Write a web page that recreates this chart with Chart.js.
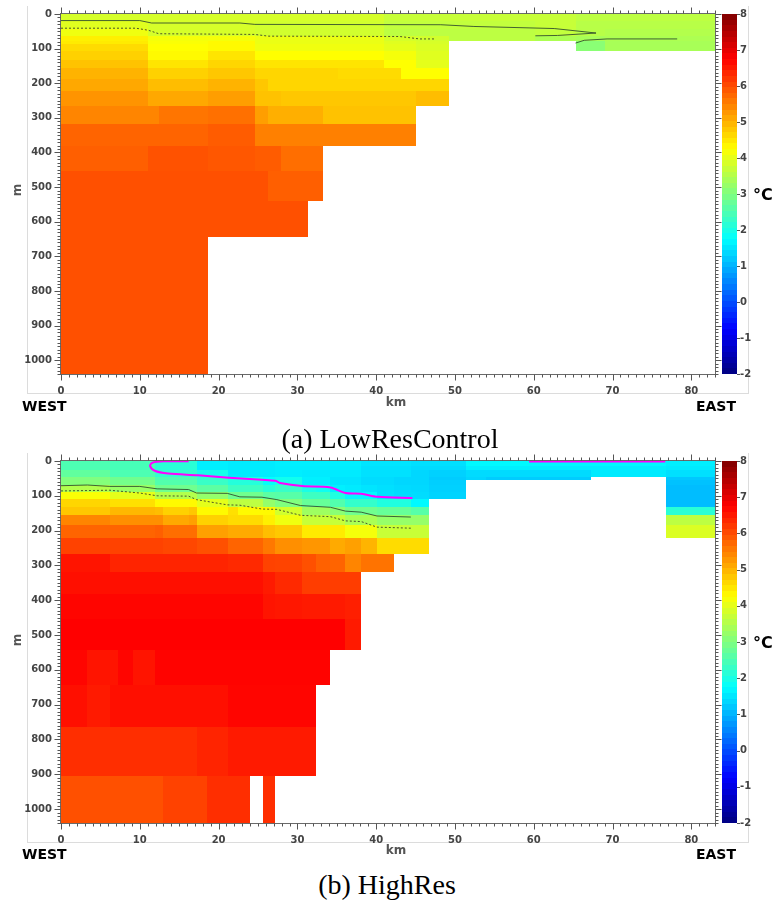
<!DOCTYPE html>
<html><head><meta charset="utf-8">
<script src="https://cdn.jsdelivr.net/npm/chart.js@4.4.0/dist/chart.umd.min.js"></script>
<style>
html,body{margin:0;padding:0;background:#fff;}
#wrap{position:relative;width:773px;height:903px;overflow:hidden;background:#fff;}
canvas{position:absolute;left:0;}
.lbl{position:absolute;white-space:nowrap;line-height:1;}
.ax{font:bold 12px "DejaVu Sans",sans-serif;color:#555;}
.dir{font:bold 14px "DejaVu Sans",sans-serif;color:#000;}
.unit{font:bold 16px "DejaVu Sans",sans-serif;color:#000;}
.ttl{font:28px "Liberation Serif","Times New Roman",serif;color:#000;}
.frame{position:absolute;border-left:1px solid #dcdcdc;border-right:1px solid #dcdcdc;border-bottom:1px solid #dcdcdc;}
</style></head>
<body><div id="wrap">
<div class="frame" style="left:27px;top:6px;width:720px;height:387px"></div>
<div class="frame" style="left:27px;top:453px;width:720px;height:389px"></div>
<canvas id="cA" width="773" height="400" style="top:0px"></canvas>
<canvas id="cB" width="773" height="400" style="top:447px"></canvas>
<div class="lbl ax" style="left:17px;top:190px;transform:translate(-50%,-50%) rotate(-90deg)">m</div>
<div class="lbl ax" style="left:396px;top:402px;transform:translate(-50%,-50%)">km</div>
<div class="lbl dir" style="left:22px;top:406px;transform:translate(0,-50%)">WEST</div>
<div class="lbl dir" style="left:736px;top:406px;transform:translate(-100%,-50%)">EAST</div>
<div class="lbl unit" style="left:753px;top:194px;transform:translate(0,-50%)">°C</div>
<div class="lbl ttl" style="left:390px;top:423px;transform:translate(-50%,0)">(a) LowResControl</div>
<div class="lbl ax" style="left:17px;top:640px;transform:translate(-50%,-50%) rotate(-90deg)">m</div>
<div class="lbl ax" style="left:396px;top:850px;transform:translate(-50%,-50%)">km</div>
<div class="lbl dir" style="left:22px;top:854px;transform:translate(0,-50%)">WEST</div>
<div class="lbl dir" style="left:736px;top:854px;transform:translate(-100%,-50%)">EAST</div>
<div class="lbl unit" style="left:753px;top:642px;transform:translate(0,-50%)">°C</div>
<div class="lbl ttl" style="left:387px;top:869px;transform:translate(-50%,0)">(b) HighRes</div>
</div>
<script>
const _ = null;
// ---------- axes / ticks ----------
const kmTickValues = [0,10,20,30,40,50,60,70,80];
const depthTickValues = [0,100,200,300,400,500,600,700,800,900,1000];
const tempTickValues = [-2,-1,0,1,2,3,4,5,6,7,8];
const kmRange = [0, 83];
const depthRange = [0, 1040];
const tempRange = [-2, 8];

// ---------- (a) LowResControl ----------
const lowResKmEdges = [0,11.1,12.4,18.6,24.6,26.3,27.95,31.4,33.2,35.1,41.0,43.1,45.1,49.3,60.2,65.3,69.1,83];
const lowResDepthEdges = [0,20,42,64,77,88,108,132,156,187,221,266,317,380,454,540,644,1040];
const lowResTemps = [
 [3.85,3.85,3.85,3.85,3.85,3.85,3.85,3.85,3.85,3.85,3.7,3.7,3.7,3.7,3.7,3.6,3.6],
 [3.95,3.85,3.85,3.85,3.8,3.8,3.8,3.8,3.8,3.8,3.65,3.65,3.65,3.65,3.7,3.55,3.55],
 [4.1,3.85,3.85,3.85,3.8,3.8,3.8,3.8,3.8,3.8,3.6,3.6,3.6,3.6,3.65,3.55,3.5],
 [4.4,4.15,4.15,4.15,4.05,4.05,4.05,4.05,4.05,4.05,3.85,3.85,3.8,3.6,3.45,3.4,3.45],
 [4.45,4.2,4.2,4.3,4.05,4.05,4.05,4.05,4.05,4.05,3.95,3.95,3.86,_,_,3.1,3.4],
 [4.6,4.25,4.25,4.3,4.1,4.1,4.1,4.1,4.1,4.1,4.0,4.0,3.9,_,_,3.1,3.4],
 [4.7,4.3,4.3,4.5,4.25,4.25,4.25,4.25,4.25,4.25,4.15,4.15,3.95,_,_,_,_],
 [4.84,4.5,4.5,4.65,4.5,4.5,4.5,4.5,4.5,4.5,4.25,4.25,4.0,_,_,_,_],
 [5.0,4.7,4.7,4.8,4.65,4.65,4.65,4.65,4.65,4.6,4.6,4.25,4.25,_,_,_,_],
 [5.1,4.9,4.9,5.0,4.8,4.65,4.65,4.65,4.65,4.65,4.65,4.65,4.65,_,_,_,_],
 [5.3,5.1,5.1,5.2,4.85,4.85,4.8,4.8,4.8,4.8,4.8,4.8,4.9,_,_,_,_],
 [5.45,5.45,5.6,5.65,5.2,5.03,5.03,5.03,4.85,4.85,4.85,4.85,_,_,_,_,_],
 [5.77,5.77,5.77,5.85,5.5,5.5,5.5,5.5,5.5,5.5,5.5,5.5,_,_,_,_,_],
 [5.82,5.95,5.95,5.9,5.85,5.85,5.67,5.67,_,_,_,_,_,_,_,_,_],
 [5.97,5.97,5.97,5.97,5.97,5.82,5.82,5.82,_,_,_,_,_,_,_,_,_],
 [5.97,5.97,5.97,5.97,5.97,5.97,5.97,_,_,_,_,_,_,_,_,_,_],
 [5.97,5.97,5.97,_,_,_,_,_,_,_,_,_,_,_,_,_,_]
];
const lowResSolidLine1 = [[0,19],[10,19],[11.5,26],[22.7,26],[24.6,30],[48.2,31],[52.4,36],[62.6,42],[67.9,55],[63,62],[60.2,63]];
const lowResSolidLine2 = [[65.3,84],[66.4,76],[69.3,72],[78.2,72]];
const lowResDottedLine = [[0,41],[9.5,41],[11.1,47],[12.4,57],[24.6,59],[26.3,64],[43,65],[45.5,72],[47.5,72]];

// ---------- (b) HighRes ----------
const highResKmEdges = [0,3.35,6.2,7.2,9.1,11.9,12.9,16.2,17.2,18.5,21.2,22.5,24.0,25.6,27.2,30.6,32.3,34.2,36.1,38.1,40.1,42.2,44.4,46.7,51.4,54,67.2,76.8,83];
const highResDepthEdges = [0,13,26,45,56,69,88,108,131,156,185,221,266,318,381,455,543,644,765,904,1040];
const highResTemps = [
 [2.5,2.5,2.45,2.45,2.45,2.15,2.15,2.15,1.6,1.6,1.55,1.55,1.55,1.55,1.6,1.6,1.6,1.6,1.6,1.5,1.5,1.5,1.45,1.45,1.7,1.7,1.7,1.6],
 [2.5,2.5,2.45,2.45,2.45,2.15,2.15,2.15,1.6,1.6,1.55,1.55,1.55,1.55,1.58,1.58,1.58,1.58,1.58,1.46,1.46,1.46,1.4,1.4,1.6,1.6,1.6,1.55],
 [2.7,2.7,2.5,2.5,2.5,2.25,2.25,2.25,1.95,1.95,1.55,1.55,1.55,1.55,1.58,1.55,1.55,1.55,1.55,1.46,1.46,1.46,1.36,1.3,1.4,1.4,1.55,1.45],
 [3.0,3.0,2.85,2.85,2.85,2.5,2.5,2.5,2.25,2.25,2.05,2.05,2.05,1.75,1.9,1.6,1.6,1.5,1.5,1.41,1.41,1.36,1.36,1.25,1.35,1.25,_,1.2],
 [3.05,3.05,2.9,2.9,2.9,2.55,2.55,2.55,2.3,2.3,2.1,2.1,2.1,1.8,2.0,1.6,1.6,1.5,1.5,1.41,1.41,1.36,1.36,1.28,_,_,_,1.15],
 [3.5,3.5,3.25,3.25,3.25,2.85,2.85,2.85,2.65,2.65,2.35,2.35,2.35,2.15,2.3,2.0,1.9,1.6,1.55,1.5,1.45,1.4,1.38,1.3,_,_,_,1.1],
 [4.2,4.2,4.0,4.0,4.0,3.5,3.5,3.5,3.2,3.2,2.85,2.85,2.85,2.65,2.6,2.35,2.35,2.05,1.7,1.7,1.46,1.41,1.41,1.33,_,_,_,1.1],
 [4.65,4.65,4.55,4.55,4.55,4.3,4.3,4.3,4.0,4.0,3.6,3.6,3.6,3.2,3.0,2.75,2.75,2.55,2.25,2.25,2.05,2.05,1.7,_,_,_,_,1.1],
 [4.8,4.8,4.95,4.95,4.95,4.9,4.7,4.8,4.3,4.3,4.55,4.3,4.3,4.3,3.8,3.3,3.3,3.1,2.85,2.85,2.75,2.75,2.6,_,_,_,_,2.15],
 [5.45,5.45,5.35,5.35,5.35,5.35,5.1,5.18,4.7,4.7,4.6,4.6,4.6,4.4,4.1,3.7,3.7,3.7,3.42,3.42,3.22,3.22,3.22,_,_,_,_,3.6],
 [5.77,5.77,5.77,5.77,5.77,5.82,5.67,5.67,5.18,5.18,5.08,5.08,5.08,4.89,4.79,4.45,4.45,4.45,4.15,4.15,3.71,3.71,3.71,_,_,_,_,3.9],
 [6.1,6.1,6.1,6.1,6.1,6.1,6.05,6.05,5.97,5.97,5.77,5.77,5.77,5.57,5.35,5.28,5.28,5.08,5.18,4.99,4.59,4.59,4.59,_,_,_,_,_],
 [6.55,6.55,6.4,6.4,6.4,6.4,6.4,6.4,6.4,6.4,6.35,6.35,6.35,6.1,6.08,5.97,5.8,5.77,5.45,5.62,5.62,_,_,_,_,_,_,_],
 [6.6,6.6,6.6,6.6,6.6,6.6,6.6,6.6,6.6,6.6,6.6,6.6,6.6,6.5,6.35,6.15,6.15,6.15,6.15,_,_,_,_,_,_,_,_,_],
 [6.7,6.7,6.7,6.7,6.7,6.7,6.7,6.7,6.7,6.7,6.7,6.7,6.7,6.55,6.52,6.5,6.5,6.5,6.45,_,_,_,_,_,_,_,_,_],
 [6.75,6.75,6.75,6.75,6.75,6.75,6.75,6.75,6.75,6.75,6.75,6.75,6.75,6.75,6.75,6.75,6.75,6.75,6.5,_,_,_,_,_,_,_,_,_],
 [6.7,6.55,6.55,6.7,6.55,6.72,6.72,6.72,6.72,6.72,6.72,6.72,6.72,6.72,6.72,6.72,6.72,_,_,_,_,_,_,_,_,_,_,_],
 [6.6,6.5,6.6,6.6,6.6,6.6,6.6,6.6,6.6,6.6,6.7,6.7,6.7,6.7,6.7,6.7,_,_,_,_,_,_,_,_,_,_,_,_],
 [6.3,6.3,6.3,6.3,6.3,6.3,6.3,6.3,6.4,6.4,6.5,6.5,6.5,6.5,6.5,6.5,_,_,_,_,_,_,_,_,_,_,_,_],
 [5.97,5.97,5.97,5.97,5.97,5.97,6.1,6.1,6.1,6.3,6.3,6.3,_,6.3,_,_,_,_,_,_,_,_,_,_,_,_,_,_]
];
const highResMagentaLine1 = [[16.2,1],[13,1],[11.6,5],[11.3,14],[11.9,28],[13.6,36],[17.4,41],[21.3,48],[25.5,54],[27.2,57],[27.8,63],[30.6,72],[34.2,76],[36.1,92],[38.1,94],[40.2,103],[44.6,106]];
const highResMagentaLine2 = [[59.4,1.5],[76.7,1.5]];
const highResSolidLine = [[0,71],[3.35,69],[6.2,73],[10,73],[12.2,80],[16.2,82],[17.2,92],[21.1,93],[22.7,103],[25.5,104],[27.4,111],[30.4,128],[34.2,133],[36.1,144],[38.1,147],[40.1,158],[44.4,161]];
const highResDottedLine = [[0,86],[6.2,84],[10,92],[12.2,100],[16.2,101],[17.2,111],[21.1,126],[22.7,127],[25.5,138],[27.4,139],[30.4,156],[34.2,160],[36.1,172],[38.1,174],[40.1,190],[44.4,193]];

// ---------- drawing ----------
function clamp01(v){return Math.max(0,Math.min(1,v));}
function jet(v){
  const t = clamp01((v - tempRange[0])/(tempRange[1]-tempRange[0]));
  const r = clamp01(1.5-Math.abs(4*t-3)), g = clamp01(1.5-Math.abs(4*t-2)), b = clamp01(1.5-Math.abs(4*t-1));
  return 'rgb('+Math.round(r*255)+','+Math.round(g*255)+','+Math.round(b*255)+')';
}
const TICK_FONT = {family:'"DejaVu Sans", sans-serif', size:10, weight:'bold'};
const TICK_COLOR = '#444';
const SOLID = 'rgba(45,70,45,0.85)', DOTTED = 'rgba(60,65,40,0.9)', MAGENTA = '#ff00ff';

function makePanel(id, kmEdges, depthEdges, temps, lines, plotBottom){
  const H = 400;
  const heat = {
    id: 'heat_'+id,
    beforeDatasetsDraw(chart){
      const {ctx, chartArea:a, scales:{x, y, cb}} = chart;
      ctx.save();
      ctx.beginPath(); ctx.rect(a.left, a.top, a.right-a.left, a.bottom-a.top); ctx.clip();
      temps.forEach((row, r) => row.forEach((v, c) => {
        if (v === null) return;
        const x0 = Math.round(x.getPixelForValue(kmEdges[c])), x1 = Math.round(x.getPixelForValue(kmEdges[c+1]));
        const y0 = Math.round(y.getPixelForValue(depthEdges[r])), y1 = Math.round(y.getPixelForValue(depthEdges[r+1]));
        ctx.fillStyle = jet(v); ctx.fillRect(x0, y0, x1-x0, y1-y0);
      }));
      ctx.restore();
      // colour bar
      const n = 64, st = (tempRange[1]-tempRange[0])/n;
      const cx0 = Math.round(a.right)+7, cx1 = Math.round(a.right)+22;
      for (let i=0;i<n;i++){
        const v0 = tempRange[0]+i*st, v1 = v0+st;
        const yy0 = Math.round(cb.getPixelForValue(v1)), yy1 = Math.round(cb.getPixelForValue(v0));
        ctx.fillStyle = jet(v0+st/2); ctx.fillRect(cx0, yy0, cx1-cx0, yy1-yy0);
      }
    },
    afterDraw(chart){
      const {ctx, chartArea:a, scales:{x, y, cb}} = chart;
      const L = Math.round(a.left)-0.5, R = Math.round(a.right)+0.5, T = Math.round(a.top)-0.5, B = Math.round(a.bottom)+0.5;
      ctx.save();
      ctx.strokeStyle = '#6a6a6a'; ctx.lineWidth = 1;
      ctx.strokeRect(L, T, R-L, B-T);
      ctx.strokeStyle = '#555';
      ctx.beginPath();
      for (let k=kmRange[0]; k<=kmRange[1]; k++){
        const px = Math.round(x.getPixelForValue(k))+0.5, len = (k%10===0)?6:3;
        ctx.moveTo(px, B); ctx.lineTo(px, B+len);
        ctx.moveTo(px, T); ctx.lineTo(px, T-len);
      }
      for (let d=depthRange[0]; d<=depthRange[1]; d+=10){
        const py = Math.round(y.getPixelForValue(d))+0.5, len = (d%100===0)?6:3;
        ctx.moveTo(L, py); ctx.lineTo(L-len, py);
        ctx.moveTo(R, py); ctx.lineTo(R+len, py);
      }
      const cbR = Math.round(a.right)+22;
      tempTickValues.forEach(v => {
        const py = Math.round(cb.getPixelForValue(v))+0.5;
        ctx.moveTo(cbR, py); ctx.lineTo(cbR+3, py);
      });
      ctx.stroke();
      ctx.restore();
    }
  };
  const setTicks = vals => (s => { s.ticks = vals.map(v => ({value:v})); });
  return new Chart(document.getElementById(id), {
    type: 'scatter',
    data: {datasets: lines.map(l => ({
      data: l.pts.map(p => ({x:p[0], y:p[1]})),
      showLine: true, pointRadius: 0, pointHoverRadius: 0,
      borderColor: l.color, borderWidth: l.width, borderDash: l.dash || [],
      tension: l.tension || 0, fill: false
    }))},
    options: {
      responsive: false, animation: false, devicePixelRatio: 1, events: [],
      layout: {padding: {top: 14, left: 0, right: 0, bottom: 0}},
      plugins: {legend: {display: false}, tooltip: {enabled: false}},
      scales: {
        x: {type:'linear', position:'bottom', min:kmRange[0], max:kmRange[1],
            afterFit(s){ s.height = H - plotBottom; },
            afterBuildTicks: setTicks(kmTickValues),
            ticks: {font: TICK_FONT, color:TICK_COLOR, padding:3, maxRotation:0, autoSkip:false, callback: v => String(v)},
            grid: {display:false, drawTicks:true, tickLength:8}, border: {display:false}},
        y: {type:'linear', position:'left', reverse:true, min:depthRange[0], max:depthRange[1],
            afterFit(s){ s.width = 61; },
            afterBuildTicks: setTicks(depthTickValues),
            ticks: {font: TICK_FONT, color:TICK_COLOR, padding:3, autoSkip:false, callback: v => String(v)},
            grid: {display:false, drawTicks:true, tickLength:6}, border: {display:false}},
        cb: {type:'linear', position:'right', min:tempRange[0], max:tempRange[1],
            afterFit(s){ s.width = 58; },
            afterBuildTicks: setTicks(tempTickValues),
            ticks: {font: TICK_FONT, color:TICK_COLOR, padding:3, autoSkip:false, callback: v => String(v)},
            grid: {display:false, drawTicks:true, tickLength:22}, border: {display:false}}
      }
    },
    plugins: [heat]
  });
}

makePanel('cA', lowResKmEdges, lowResDepthEdges, lowResTemps, [
  {pts: lowResSolidLine1, color: SOLID, width: 1},
  {pts: lowResSolidLine2, color: SOLID, width: 1},
  {pts: lowResDottedLine, color: DOTTED, width: 1, dash: [2,2]}
], 374);

makePanel('cB', highResKmEdges, highResDepthEdges, highResTemps, [
  {pts: highResSolidLine, color: SOLID, width: 1},
  {pts: highResDottedLine, color: DOTTED, width: 1, dash: [2,2]},
  {pts: highResMagentaLine1, color: MAGENTA, width: 2, tension: 0.3},
  {pts: highResMagentaLine2, color: MAGENTA, width: 2}
], 376);
</script>
</body></html>
